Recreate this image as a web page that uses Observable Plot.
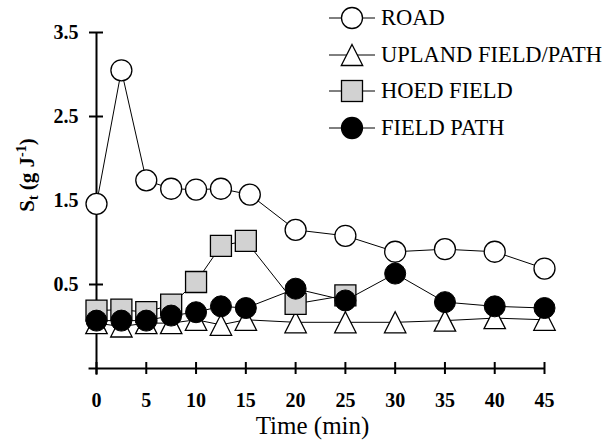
<!DOCTYPE html>
<html>
<head>
<meta charset="utf-8">
<script src="https://cdn.jsdelivr.net/npm/d3@7"></script>
<script src="https://cdn.jsdelivr.net/npm/@observablehq/plot@0.6"></script>
<style>
  html, body { margin: 0; padding: 0; background: white; }
  #wrap { position: relative; width: 610px; height: 447px; font-family: "Liberation Serif", "DejaVu Serif", serif; }
  #legend { position: absolute; left: 0; top: 0; }
  .lrow { position: absolute; left: 327px; height: 26px; display: flex; align-items: center; }
  .lrow span { font-family: "Liberation Serif", "DejaVu Serif", serif; font-size: 22.5px; color: #000; margin-left: 4px; line-height: 26px; white-space: nowrap; }
</style>
</head>
<body>
<div id="wrap"><div id="legend"></div></div>
<script>
// ---- data ----
const seriesNames = ["ROAD", "UPLAND FIELD/PATH", "HOED FIELD", "FIELD PATH"];
const time = [0, 2.5, 5, 7.5, 10, 12.5, 15, 20, 25, 30, 35, 40, 45];
const roadTime = [0, 2.5, 5, 7.5, 10, 12.5, 15.4, 20, 25, 30, 35, 40, 45];
const road = [1.46, 3.05, 1.74, 1.64, 1.63, 1.64, 1.57, 1.15, 1.08, 0.89, 0.92, 0.89, 0.69];
const upland = [0.04, 0.0, 0.04, 0.04, 0.08, 0.02, 0.08, 0.05, 0.05, 0.05, 0.07, 0.1, 0.08];
const hoedTime = [0, 2.5, 5, 7.5, 10, 12.5, 15, 20, 25];
const hoed = [0.19, 0.2, 0.17, 0.26, 0.53, 0.96, 1.02, 0.27, 0.37];
const fieldPath = [0.07, 0.07, 0.07, 0.13, 0.17, 0.24, 0.22, 0.45, 0.31, 0.63, 0.29, 0.24, 0.22];
const xTicks = [0, 5, 10, 15, 20, 25, 30, 35, 40, 45];
const yTicks = [0.5, 1.5, 2.5, 3.5];
const xLabel = "Time (min)";

// ---- build tables ----
const roadData = roadTime.map((t, i) => ({t, v: road[i]}));
const uplandData = time.map((t, i) => ({t, v: upland[i]}));
const hoedData = hoedTime.map((t, i) => ({t, v: hoed[i]}));
const pathData = time.map((t, i) => ({t, v: fieldPath[i]}));

const triSym = {draw(ctx, size) { const r = Math.sqrt(size / Math.PI); ctx.moveTo(0, -r); ctx.lineTo(r * 1.02, r); ctx.lineTo(-r * 1.02, r); ctx.closePath(); }};
const sqSym = {draw(ctx, size) { const r = Math.sqrt(size / Math.PI); ctx.rect(-r, -r, 2 * r, 2 * r); }};

const R = 10.5;
const hoedFill = "#d2d2d2";
const FONT = "Liberation Serif, DejaVu Serif, serif";
const lineOpt = {x: "t", y: "v", stroke: "black", strokeWidth: 1};

const chart = Plot.plot({
  width: 610,
  height: 447,
  marginLeft: 96,
  marginRight: 66,
  marginTop: 32,
  marginBottom: 79,
  x: {domain: [0, 45]},
  y: {domain: [-0.5, 3.5]},
  style: {fontFamily: FONT, background: "white", color: "black", overflow: "visible"},
  marks: [
    // axes lines and crossing ticks
    Plot.ruleY([-0.5], {x1: -0.75, x2: 45, stroke: "black", strokeWidth: 2}),
    Plot.ruleX([0], {y1: -0.58, y2: 3.5, stroke: "black", strokeWidth: 2}),
    Plot.ruleX(xTicks, {x: d => d, y1: -0.5, y2: -0.5, insetTop: -6, insetBottom: -6, stroke: "black", strokeWidth: 2}),
    Plot.ruleY(yTicks, {y: d => d, x1: 0, x2: 0, insetLeft: -7, insetRight: -7, stroke: "black", strokeWidth: 2}),
    Plot.axisX(xTicks, {tickSize: 0, tickPadding: 24, fontSize: 20, fontWeight: "bold", fontFamily: FONT, label: null}),
    Plot.axisY(yTicks, {tickSize: 0, tickPadding: 18, fontSize: 20, fontWeight: "bold", fontFamily: FONT, label: null, tickFormat: d => d.toFixed(1)}),
    Plot.text([xLabel], {frameAnchor: "bottom", dy: 65, dx: -8, fontSize: 25, fontFamily: FONT, fill: "black"}),
    // upland
    Plot.line(uplandData, lineOpt),
    Plot.dot(uplandData, {x: "t", y: "v", r: R, symbol: triSym, fill: "white", stroke: "black", strokeWidth: 1.3}),
    // hoed
    Plot.line(hoedData, lineOpt),
    Plot.dot(hoedData, {x: "t", y: "v", r: R, symbol: sqSym, fill: hoedFill, stroke: "black", strokeWidth: 1.3}),
    // field path
    Plot.line(pathData, lineOpt),
    Plot.dot(pathData, {x: "t", y: "v", r: R, fill: "black", stroke: "black", strokeWidth: 1}),
    // road
    Plot.line(roadData, lineOpt),
    Plot.dot(roadData, {x: "t", y: "v", r: R, fill: "white", stroke: "black", strokeWidth: 1.3})
  ]
});

document.getElementById("wrap").prepend(chart);

// y-axis label with subscript and superscript
const svg = d3.select(chart);
const yl = svg.append("text")
  .attr("transform", "translate(34,175) rotate(-90)")
  .attr("text-anchor", "middle")
  .attr("font-family", FONT)
  .attr("font-weight", "bold")
  .attr("font-size", 21)
  .attr("fill", "black");
yl.append("tspan").text("S");
yl.append("tspan").attr("font-size", 14).attr("dy", 4).text("t");
yl.append("tspan").attr("dy", -4).text(" (g J");
yl.append("tspan").attr("font-size", 14).attr("dy", -8).text("-1");
yl.append("tspan").attr("dy", 8).text(")");

// legend
const legendItems = [
  {name: seriesNames[0], kind: "circle", fill: "white"},
  {name: seriesNames[1], kind: "tri", fill: "white"},
  {name: seriesNames[2], kind: "square", fill: hoedFill},
  {name: seriesNames[3], kind: "circle", fill: "black"}
];
const legendTop = [5, 42, 78, 115];
const lg = d3.select("#legend");
legendItems.forEach((d, i) => {
  const row = lg.append("div").attr("class", "lrow").style("top", legendTop[i] + "px");
  const s = row.append("svg").attr("width", 50).attr("height", 26);
  s.append("line").attr("x1", 2).attr("x2", 48).attr("y1", 13).attr("y2", 13).attr("stroke", "black").attr("stroke-width", 1);
  const g = s.append("g").attr("transform", "translate(25,13)");
  if (d.kind === "circle") g.append("circle").attr("r", R).attr("fill", d.fill).attr("stroke", "black").attr("stroke-width", 1.3);
  if (d.kind === "tri") g.append("path").attr("d", `M0,${-R}L${R * 1.02},${R}L${-R * 1.02},${R}Z`).attr("fill", d.fill).attr("stroke", "black").attr("stroke-width", 1.3);
  if (d.kind === "square") g.append("rect").attr("x", -R).attr("y", -R).attr("width", 2 * R).attr("height", 2 * R).attr("fill", d.fill).attr("stroke", "black").attr("stroke-width", 1.3);
  row.append("span").text(d.name);
});
</script>
</body>
</html>
